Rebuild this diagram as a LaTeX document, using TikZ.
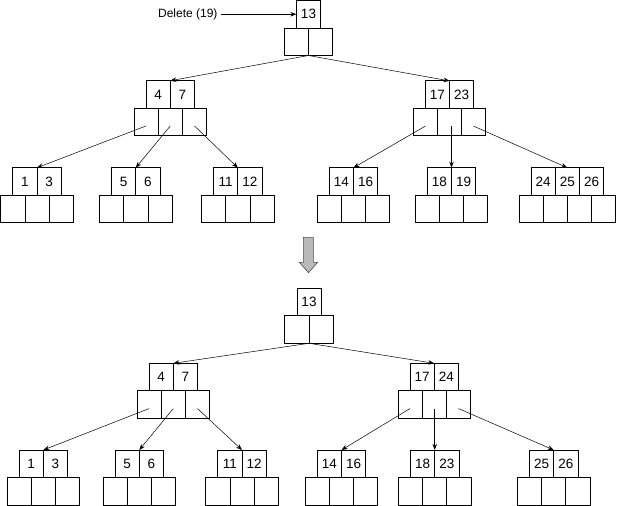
\documentclass[tikz,border=0pt]{standalone}
\usepackage{fontspec}
\setmainfont{Liberation Sans}
\usetikzlibrary{arrows.meta,calc}

\newcommand{\cellw}{24.2}
\newcommand{\cellh}{27.5}
% one B-tree node: name, centre x, top y, keys
\newcommand{\btnode}[4]{%
  \foreach \key [count=\c] in {#4} {\xdef\nkeys{\c}}
  \pgfmathtruncatemacro\nptrs{\nkeys+1}
  \foreach \key [count=\i] in {#4} {
    \node[keycell] (#1-k\i) at ({#2+(\i-(\nkeys+1)/2)*\cellw}, {#3+\cellh/2}) {\key};
  }
  \foreach \i in {1,...,\nptrs} {
    \node[ptrcell] (#1-p\i) at ({#2+(\i-(\nptrs+1)/2)*\cellw}, {#3+3*\cellh/2}) {};
  }
  \coordinate (#1-top) at (#2,#3);
}

\tikzset{
  cell/.style={draw, line width=0.8pt, minimum width=\cellw*1pt,
    minimum height=\cellh*1pt, inner sep=0pt, outer sep=0pt},
  keycell/.style={cell, font=\fontsize{13.5}{15}\selectfont},
  ptrcell/.style={cell},
  ptr/.style={-{Stealth[length=6pt,width=4.5pt]}, line width=0.5pt},
}

\begin{document}
\begin{tikzpicture}[x=1pt,y=-1pt]
    \useasboundingbox (0,0) rectangle (617,505);
    % before the deletion
    \btnode{r}{308.5}{0.5}{13}
    \btnode{a}{170.3}{80.7}{4,7}
    \btnode{b}{449.5}{80.9}{17,23}
    \btnode{a1}{37}{167.7}{1,3}
    \btnode{a2}{135.8}{167.7}{5,6}
    \btnode{a3}{237.8}{167.7}{11,12}
    \btnode{b1}{353.5}{167.7}{14,16}
    \btnode{b2}{451.5}{167.7}{18,19}
    \btnode{b3}{567.3}{167.7}{24,25,26}
    \node[font=\fontsize{12}{14}\selectfont, anchor=east] (del) at (221,14.25) {Delete (19)};
    \draw[ptr] (del) -- (r-k1);
    \draw[ptr] (r-p1.south east) -- (a-top);
    \draw[ptr] (r-p1.south east) -- (b-top);
    \foreach \i in {1,3} {
        \draw[ptr] ([yshift=-4pt]a-p\i.center) -- (a\i-top);
        \draw[ptr] ([yshift=-4pt]b-p\i.center) -- (b\i-top);
    }
    \draw[ptr] ([yshift=-4pt]a-p2.center) -- (a2-top);
    \draw[ptr] ($(b2-top |- b-p2.center)+(0,4)$) -- (b2-top);
    % step arrow
    \draw[fill=gray!55, draw=black!70, line width=0.6pt]
        (303.3,237.3) -- (313.3,237.3) -- (313.3,262.3) -- (317.7,262.3)
        -- (308.5,272.7) -- (299.3,262.3) -- (303.3,262.3) -- cycle;
    % after the deletion
    \btnode{rr}{309}{288.3}{13}
    \btnode{aa}{173.3}{363.3}{4,7}
    \btnode{bb}{434.2}{363.3}{17,24}
    \btnode{aa1}{43.3}{450}{1,3}
    \btnode{aa2}{139.3}{450}{5,6}
    \btnode{aa3}{242}{450}{11,12}
    \btnode{bb1}{341.5}{450}{14,16}
    \btnode{bb2}{434.7}{450}{18,23}
    \btnode{bb3}{553.7}{450}{25,26}
    \draw[ptr] (rr-p1.south east) -- (aa-top);
    \draw[ptr] (rr-p1.south east) -- (bb-top);
    \foreach \i in {1,3} {
        \draw[ptr] ([yshift=-4pt]aa-p\i.center) -- (aa\i-top);
        \draw[ptr] ([yshift=-4pt]bb-p\i.center) -- (bb\i-top);
    }
    \draw[ptr] ([yshift=-4pt]aa-p2.center) -- (aa2-top);
    \draw[ptr] ($(bb2-top |- bb-p2.center)+(0,4)$) -- (bb2-top);
\end{tikzpicture}
\end{document}
